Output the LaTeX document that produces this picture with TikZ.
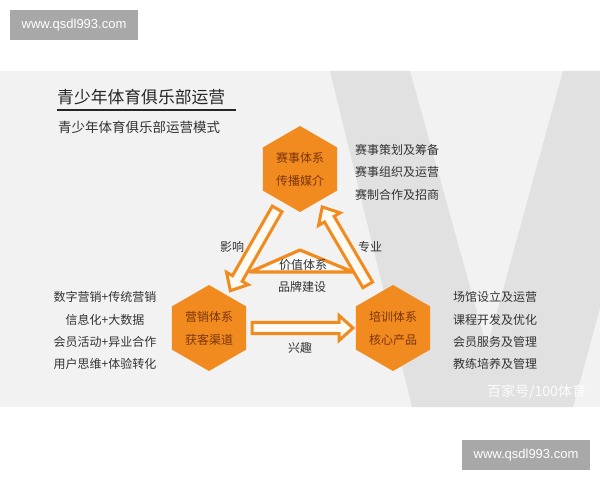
\documentclass[tikz,border=0pt]{standalone}
\usepackage{fontspec}
\setmainfont{Noto Sans CJK SC}
\newfontfamily\latinsans{Liberation Sans}
\usetikzlibrary{shapes.geometric,calc}
\definecolor{panel}{HTML}{F2F2F2}
\definecolor{vgray}{HTML}{E1E1E1}
\definecolor{org}{HTML}{F18A1F}
\definecolor{hextext}{HTML}{7A360C}
\definecolor{cream}{HTML}{FFFBF2}
\definecolor{txt}{HTML}{333333}
\definecolor{wmgray}{HTML}{A8A8A8}
\tikzset{
  hexnode/.style={regular polygon, regular polygon sides=6, shape border rotate=30,
    minimum size=86pt, inner sep=0pt, fill=org, text=hextext,
    font=\fontsize{12}{23}\selectfont, align=center},
  bodytext/.style={text=txt, font=\fontsize{12}{12}\selectfont, inner sep=0pt},
  blockarrow/.style={draw=org, fill=cream, line width=3pt, line join=miter},
  wmbox/.style={fill=wmgray, text=white, minimum width=128pt, minimum height=30pt,
    inner sep=0pt, font=\latinsans\fontsize{13}{13}\selectfont}
}
\newcommand{\blockarrowpath}[2]{%
  \draw[blockarrow] let \p1=(#1), \p2=(#2),
    \n1={atan2(\y2-\y1,\x2-\x1)}, \n2={veclen(\x2-\x1,\y2-\y1)} in
    ($(\p1)+(\n1+90:5.6)$) -- ($(\p1)+(\n1:\n2-14)+(\n1+90:5.6)$)
    -- ($(\p1)+(\n1:\n2-14)+(\n1+90:12.5)$) -- (\p2)
    -- ($(\p1)+(\n1:\n2-14)+(\n1-90:12.5)$) -- ($(\p1)+(\n1:\n2-14)+(\n1-90:5.6)$)
    -- ($(\p1)+(\n1-90:5.6)$) -- cycle;
}
\begin{document}
\begin{tikzpicture}[x=1pt,y=1pt]
\useasboundingbox (0,0) rectangle (600,480);
\fill[white] (0,0) rectangle (600,480);
% panel
\fill[panel] (0,73) rectangle (600,409);
\begin{scope}
  \clip (0,73) rectangle (600,409);
  \fill[vgray] (330,409) -- (410,409) -- (487,132) -- (563,409) -- (665,409)
    -- (573,73) -- (412,73) -- cycle;
\end{scope}
% watermarks
\node[wmbox] (wm1) at (74,455) {www.qsdl993.com};
\node[wmbox] (wm2) at (526,25) {www.qsdl993.com};
\node[text=white, opacity=0.9, font=\fontsize{14}{14}\selectfont, anchor=west, inner sep=0pt] (bjh) at (487,88) {百家号/100体育};
% title
\node[anchor=west, inner sep=0pt, text=black!85, font=\fontsize{16.8}{17}\selectfont] (title) at (57,383) {青少年体育俱乐部运营};
\draw[line width=2pt, black!85] (57,369.5) -- (236,369.5);
\node[anchor=west, inner sep=0pt, text=txt, font=\fontsize{13.5}{14}\selectfont] (subtitle) at (58,353) {青少年体育俱乐部运营模式};
% hexagons
\node[hexnode] (top) at (300,311) {赛事体系\\传播媒介};
\node[hexnode] (bl) at (209,152) {营销体系\\获客渠道};
\node[hexnode] (br) at (393,152) {培训体系\\核心产品};
% central triangle
\draw[draw=org, fill=panel!40!white, line width=3.2pt, line join=round] (250,208) -- (300,230) -- (353,208) -- cycle;
% arrows
\coordinate (la1) at ($(top.center)!46pt!(bl.center)$);
\coordinate (la2) at ($(bl.center)!43pt!(top.center)$);
\coordinate (ra1) at ($(br.center)!50pt!(top.center)$);
\coordinate (ra2) at ($(top.center)!44pt!(br.center)$);
\coordinate (ba1) at ($(bl.center)!43pt!(br.center)$);
\coordinate (ba2) at ($(br.center)!40pt!(bl.center)$);
\blockarrowpath{la1}{la2}
\blockarrowpath{ra1}{ra2}
\blockarrowpath{ba1}{ba2}
% labels
\node[bodytext] (lyx) at (232,233) {影响};
\node[bodytext] (lzy) at (370,233) {专业};
\node[bodytext] (lxq) at (300,132) {兴趣};
\node[bodytext] (jz) at (303,215) {价值体系};
\node[bodytext] (pp) at (302,193) {品牌建设};
% right top list
\node[bodytext, anchor=west] (t1) at (355,330) {赛事策划及筹备};
\node[bodytext, anchor=west] (t2) at (355,308) {赛事组织及运营};
\node[bodytext, anchor=west] (t3) at (355,285) {赛制合作及招商};
% left list
\node[bodytext] (l1) at (105,183) {数字营销+传统营销};
\node[bodytext] (l2) at (105,160) {信息化+大数据};
\node[bodytext] (l3) at (105,138) {会员活动+异业合作};
\node[bodytext] (l4) at (105,116) {用户思维+体验转化};
% right bottom list
\node[bodytext, anchor=west] (r1) at (453,183) {场馆设立及运营};
\node[bodytext, anchor=west] (r2) at (453,160) {课程开发及优化};
\node[bodytext, anchor=west] (r3) at (453,138) {会员服务及管理};
\node[bodytext, anchor=west] (r4) at (453,116) {教练培养及管理};
\end{tikzpicture}
\end{document}
